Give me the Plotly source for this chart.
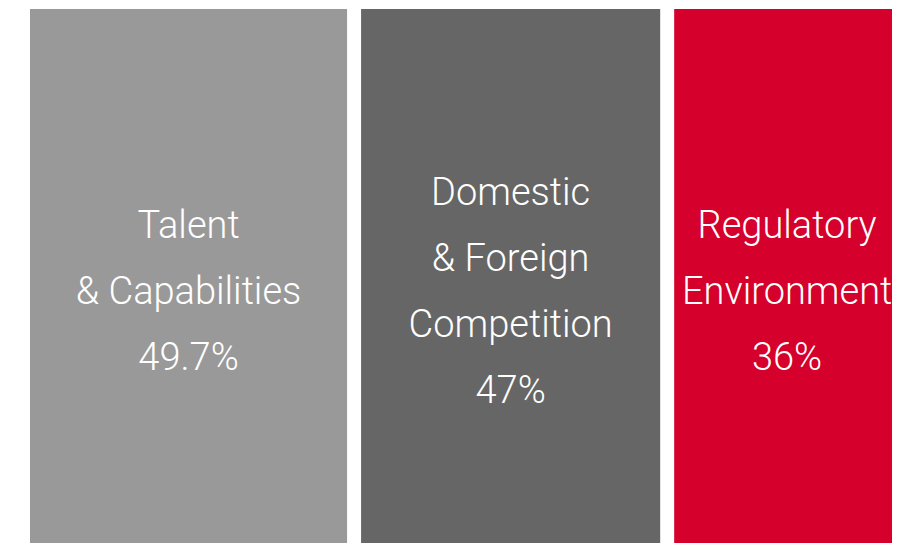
import plotly.graph_objects as go

# challenge categories and their share of respondents (%)
categories = ["Talent & Capabilities", "Domestic & Foreign Competition", "Regulatory Environment"]
label_lines = [["Talent", "& Capabilities"],
               ["Domestic", "& Foreign", "Competition"],
               ["Regulatory", "Environment"]]
shares = [49.7, 47, 36]
colors = ["#999999", "#666666", "#D5002B"]

# each line wrapped in its own span so the glyphs are smaller than the line spacing
texts = []
for lines, v in zip(label_lines, shares):
    parts = lines + [f"{v:g}%"]
    texts.append("<br>".join(f"<span style='font-size:38px'>{p}</span>" for p in parts))

fig = go.Figure(go.Treemap(
    labels=categories,
    parents=[""] * len(categories),
    values=shares,
    sort=False,
    text=texts,
    texttemplate="%{text}",
    textposition="middle center",
    textfont=dict(family="Roboto", size=51, color="white", weight=300),
    marker=dict(colors=colors, line=dict(width=0), pad=dict(t=0, l=0, r=0, b=0)),
    tiling=dict(packing="dice", pad=14),
    pathbar=dict(visible=False),
    hoverinfo="skip",
))

fig.update_layout(
    width=892,
    height=565,
    margin=dict(l=22, r=0, t=1, b=0),
    paper_bgcolor="white",
)

fig.write_html(
    "out.html",
    post_script="document.documentElement.style.overflow='hidden';"
                "document.body.style.overflow='hidden';",
)
